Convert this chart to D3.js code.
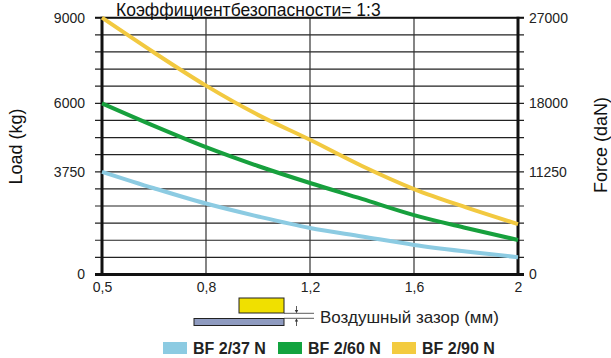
<!DOCTYPE html>
<html>
<head>
<meta charset="utf-8">
<script src="https://cdn.jsdelivr.net/npm/d3@7"></script>
<style>
  html, body { margin: 0; padding: 0; background: #fff; }
  svg { display: block; font-family: "Liberation Sans", Arial, sans-serif; }
</style>
</head>
<body>
<svg id="chart" width="611" height="358"></svg>
<script>
// ---------- data ----------
const gaps = [0.5, 0.65, 0.8, 1.0, 1.2, 1.4, 1.6, 1.8, 2.0];
const bf37 = [3750, 3150, 2590, 2120, 1700, 1390, 1080, 840, 630];
const bf60 = [6000, 5260, 4560, 3940, 3340, 2760, 2170, 1700, 1260];
const bf90 = [9000, 7780, 6620, 5620, 4800, 3940, 3120, 2450, 1840];
const seriesNames = ["BF 2/37 N", "BF 2/60 N", "BF 2/90 N"];
const seriesColors = ["#8ccbe2", "#17a03d", "#f2c940"];
const legendColors = ["#8ccbe2", "#12a33f", "#f3cb3f"];
const xTicks = [0.5, 0.8, 1.2, 1.6, 2];
const xTickLabels = ["0,5", "0,8", "1,2", "1,6", "2"];
const yTicks = [0, 3750, 6000, 9000];
const yTicksRight = [0, 11250, 18000, 27000];
const title = "Коэффициентбезопасности= 1:3";
const yTitleLeft = "Load (kg)";
const yTitleRight = "Force (daN)";
const gapLabel = "Воздушный зазор (мм)";

// ---------- layout ----------
const L = 102, R = 518, T = 17.7, B = 274.5;
const nGrid = 15;
const unit = (B - T) / nGrid;
const svg = d3.select("#chart");

const x = d3.scaleLinear()
  .domain(xTicks)
  .range(xTicks.map((d, i) => L + i * (R - L) / (xTicks.length - 1)));
// grid rows at which the labelled loads sit
const yTickRows = [0, 6, 10, 15];
const y = d3.scaleLinear()
  .domain(yTicks)
  .range(yTickRows.map(r => B - r * unit));
const yR = d3.scaleLinear()
  .domain(yTicksRight)
  .range(yTickRows.map(r => B - r * unit));
const gridRow = d3.scaleLinear().domain([0, nGrid]).range([B, T]);

// horizontal grid lines
svg.append("g").selectAll("line")
  .data(d3.range(0, nGrid + 1))
  .join("line")
  .attr("x1", L - 7).attr("x2", R + 6)
  .attr("y1", d => gridRow(d)).attr("y2", d => gridRow(d))
  .attr("stroke", "#222")
  .attr("stroke-width", 1.2);

// vertical grid lines
svg.append("g").selectAll("line")
  .data(xTicks.slice(1, -1))
  .join("line")
  .attr("x1", d => x(d)).attr("x2", d => x(d))
  .attr("y1", T).attr("y2", B)
  .attr("stroke", "#333")
  .attr("stroke-width", 1.2);

// frame lines
svg.append("line").attr("x1", L).attr("x2", L).attr("y1", T - 1).attr("y2", B + 1.5)
  .attr("stroke", "#111").attr("stroke-width", 3);
svg.append("line").attr("x1", R).attr("x2", R).attr("y1", T - 1).attr("y2", B + 1.5)
  .attr("stroke", "#111").attr("stroke-width", 3);
svg.append("line").attr("x1", L - 7).attr("x2", R + 6).attr("y1", B).attr("y2", B)
  .attr("stroke", "#111").attr("stroke-width", 2.8);
svg.append("line").attr("x1", L - 7).attr("x2", R + 6).attr("y1", T).attr("y2", T)
  .attr("stroke", "#111").attr("stroke-width", 2);

// curves
const line = d3.line().x(d => x(d[0])).y(d => y(d[1])).curve(d3.curveMonotoneX);
[bf37, bf60, bf90].forEach((vals, i) => {
  svg.append("path")
    .datum(gaps.map((g, j) => [g, vals[j]]))
    .attr("fill", "none")
    .attr("stroke", seriesColors[i])
    .attr("stroke-width", 4)
    .attr("d", line);
});

// axes labels
const fs = 14;
const axL = svg.append("g").attr("transform", `translate(${L},0)`)
  .call(d3.axisLeft(y).tickValues(yTicks).tickSize(0).tickPadding(17).tickFormat(d3.format("d")));
const axR = svg.append("g").attr("transform", `translate(${R},0)`)
  .call(d3.axisRight(yR).tickValues(yTicksRight).tickSize(0).tickPadding(11).tickFormat(d3.format("d")));
const axB = svg.append("g").attr("transform", `translate(0,${B})`)
  .call(d3.axisBottom(x).tickValues(xTicks).tickSize(0).tickPadding(7.5)
    .tickFormat((d, i) => xTickLabels[i]));
[axL, axR, axB].forEach(a => {
  a.select(".domain").remove();
  a.selectAll("text").attr("font-size", fs).attr("fill", "#222")
    .attr("font-family", "'Liberation Sans', Arial, sans-serif");
});

// title
svg.append("text").attr("x", 116).attr("y", 15.9)
  .attr("font-size", 17.5).attr("fill", "#111").text(title);

// axis titles
svg.append("text")
  .attr("transform", `translate(22,146.5) rotate(-90)`)
  .attr("text-anchor", "middle").attr("font-size", 18).attr("fill", "#111")
  .text(yTitleLeft);
svg.append("text")
  .attr("transform", `translate(607,145) rotate(-90)`)
  .attr("text-anchor", "middle").attr("font-size", 18).attr("fill", "#111")
  .text(yTitleRight);

// air gap diagram
const dg = svg.append("g");
dg.append("rect").attr("x", 239).attr("y", 298).attr("width", 45).attr("height", 15)
  .attr("fill", "#f0e000").attr("stroke", "#222").attr("stroke-width", 1);
dg.append("rect").attr("x", 194).attr("y", 318.5).attr("width", 90).attr("height", 7)
  .attr("fill", "#8f9bc0").attr("stroke", "#222").attr("stroke-width", 1);
[313.3, 318.3].forEach(yy => {
  dg.append("line").attr("x1", 284).attr("x2", 314).attr("y1", yy).attr("y2", yy)
    .attr("stroke", "#333").attr("stroke-width", 0.8);
});
dg.append("line").attr("x1", 296.5).attr("x2", 296.5).attr("y1", 306).attr("y2", 312)
  .attr("stroke", "#333").attr("stroke-width", 0.8);
dg.append("path").attr("d", "M294.8,310 L298.2,310 L296.5,313.2 Z").attr("fill", "#333");
dg.append("line").attr("x1", 296.5).attr("x2", 296.5).attr("y1", 319.5).attr("y2", 326)
  .attr("stroke", "#333").attr("stroke-width", 0.8);
dg.append("path").attr("d", "M294.8,321.6 L298.2,321.6 L296.5,318.4 Z").attr("fill", "#333");
dg.append("text").attr("x", 320).attr("y", 322.5).attr("font-size", 17).attr("fill", "#222")
  .text(gapLabel);

// legend
const legX = [163, 278, 392];
const lg = svg.append("g");
seriesNames.forEach((n, i) => {
  lg.append("rect").attr("x", legX[i]).attr("y", 342).attr("width", 24).attr("height", 12)
    .attr("fill", legendColors[i]);
  lg.append("text").attr("x", legX[i] + 30).attr("y", 354)
    .attr("font-size", 16).attr("font-weight", "bold").attr("fill", "#222").text(n);
});
</script>
</body>
</html>
